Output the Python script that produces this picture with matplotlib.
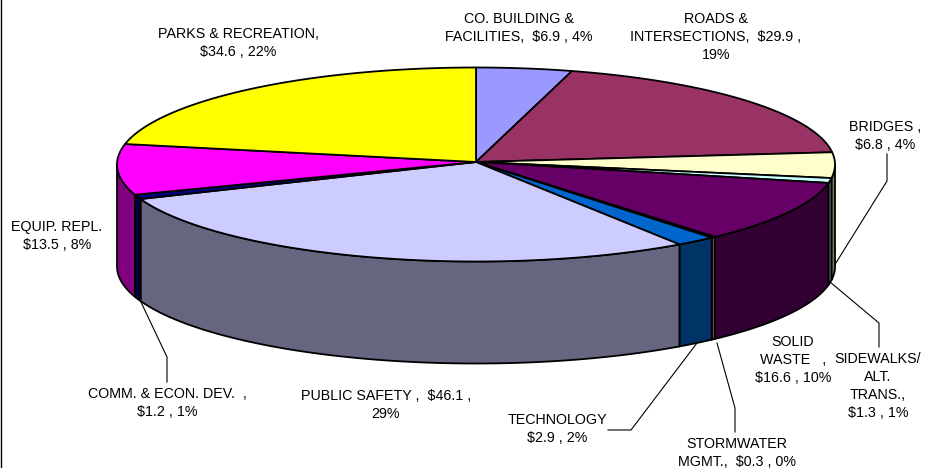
import numpy as np
import matplotlib
matplotlib.use('Agg')
import matplotlib.pyplot as plt

plt.rcParams['font.family'] = ['Liberation Sans', 'DejaVu Sans']

# values, clockwise from 12 o'clock
names = ['CO. BUILDING', 'ROADS', 'BRIDGES', 'SIDEWALKS', 'SOLID WASTE', 'STORMWATER',
         'TECHNOLOGY', 'PUBLIC SAFETY', 'COMM', 'EQUIP', 'PARKS']
values = [6.9, 29.9, 6.8, 1.3, 16.6, 0.3, 2.9, 46.1, 1.2, 13.5, 34.6]
top_colors = ['#9999FF', '#993366', '#FFFFCC', '#CCFFFF', '#660066', '#FF8080',
              '#0066CC', '#CCCCFF', '#000080', '#FF00FF', '#FFFF00']
wall_colors = ['#4D4D80', '#4D1A33', '#808066', '#668080', '#330033', '#804040',
               '#003366', '#666680', '#000040', '#800080', '#808000']
labels = ['CO. BUILDING &\nFACILITIES,  $6.9 , 4%',
          'ROADS &\nINTERSECTIONS,  $29.9 ,\n19%',
          'BRIDGES ,\n$6.8 , 4%',
          'SIDEWALKS/\nALT.\nTRANS.,\n$1.3 , 1%',
          'SOLID\nWASTE   ,\n$16.6 , 10%',
          'STORMWATER\nMGMT.,  $0.3 , 0%',
          'TECHNOLOGY\n$2.9 , 2%',
          'PUBLIC SAFETY ,  $46.1 ,\n29%',
          'COMM. & ECON. DEV.  ,\n$1.2 , 1%',
          'EQUIP. REPL.\n$13.5 , 8%',
          'PARKS & RECREATION,\n$34.6 , 22%']
label_pos = [(519, 28), (716, 37), (885, 136), (878, 386), (793, 360), (737, 453),
             (557, 429), (386, 405), (167, 403), (57, 236), (238, 43)]

# pie geometry in image pixels: the apex sits a little above the ellipse centre
cx, cy = 476, 162
ell_y = 164.5
rx = 359
ry = 97
depth = 102


def rim(deg):
    a = np.radians(deg)
    return cx + rx * np.sin(a), ell_y - ry * np.cos(a)


fig = plt.figure(figsize=(9.35, 4.68), dpi=100)
ax = fig.add_axes([0, 0, 1, 1])
ax.set_xlim(0, 935)
ax.set_ylim(468, 0)
ax.axis('off')

edges = np.cumsum([0] + values) / sum(values) * 360

# outer walls first, only the front half shows
for i in range(len(values)):
    a0, a1 = max(edges[i], 90), min(edges[i + 1], 270)
    if a1 <= a0:
        continue
    t = np.linspace(a0, a1, 80)
    x, y = rim(t)
    ax.fill(np.r_[x, x[::-1]], np.r_[y, y[::-1] + depth], fc=wall_colors[i],
            ec='black', lw=1.3, joinstyle='round', zorder=2)

# top faces
for i in range(len(values)):
    t = np.linspace(edges[i], edges[i + 1], 120)
    x, y = rim(t)
    ax.fill(np.r_[cx, x], np.r_[cy, y], fc=top_colors[i], ec='black', lw=1.3,
            joinstyle='round', zorder=3)

# leader lines
leaders = [[(887, 154), (887, 181), (834, 266)],
           [(830, 282), (879, 323), (879, 347)],
           [(140, 300), (167, 357), (167, 382)],
           [(697, 343), (631, 430), (608, 430)],
           [(717, 343), (735, 408), (735, 432)]]
for pts in leaders:
    ax.plot(*zip(*pts), color='black', lw=0.8, zorder=1)

for text, (x, y) in zip(labels, label_pos):
    ax.text(x, y, text, ha='center', va='center', fontsize=10.3, color='black',
            linespacing=1.35, zorder=5)

# thin line down the left edge
ax.plot([0.5, 0.5], [468, 0], color='black', lw=1.0, clip_on=False)

fig.savefig('out.png', dpi=100)
